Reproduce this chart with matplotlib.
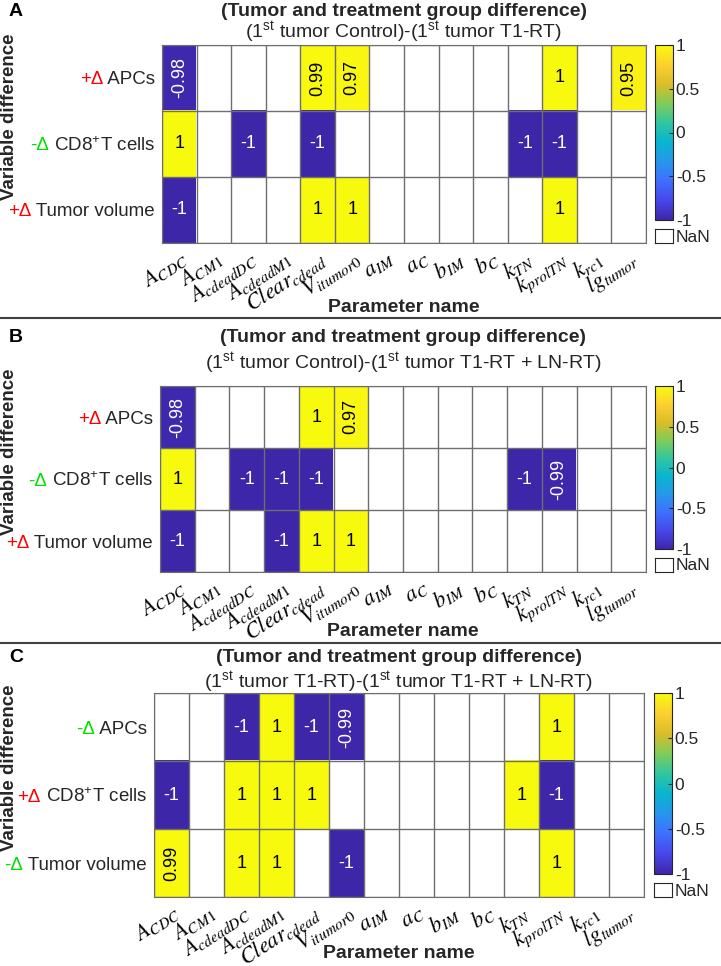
import numpy as np
import matplotlib as mpl
import matplotlib.pyplot as plt
from matplotlib.colors import LinearSegmentedColormap
from matplotlib.lines import Line2D

nan = np.nan

# parameter names (x axis)
params = [r'$A_{CDC}$', r'$A_{CM1}$', r'$A_{cdeadDC}$', r'$A_{cdeadM1}$',
          r'$Clear_{cdead}$', r'$V_{itumor0}$', r'$a_{IM}$', r'$a_{C}$',
          r'$b_{IM}$', r'$b_{C}$', r'$k_{TN}$', r'$k_{prolTN}$',
          r'$k_{rc1}$', r'$lg_{tumor}$']

row_names = [' APCs', r' CD8$^{+}$T cells', ' Tumor volume']

signs_A = ['+Δ', '-Δ', '+Δ']
signs_B = ['+Δ', '-Δ', '+Δ']
signs_C = ['-Δ', '+Δ', '-Δ']

title = '(Tumor and treatment group difference)'
sub_A = r'(1$^{\rm st}$ tumor Control)-(1$^{\rm st}$ tumor T1-RT)'
sub_B = r'(1$^{\rm st}$ tumor Control)-(1$^{\rm st}$ tumor T1-RT + LN-RT)'
sub_C = r'(1$^{\rm st}$ tumor T1-RT)-(1$^{\rm st}$ tumor T1-RT + LN-RT)'

vals_A = [[-0.98, nan, nan, nan, 0.99, 0.97, nan, nan, nan, nan, nan, 1, nan, 0.95],
          [1, nan, -1, nan, -1, nan, nan, nan, nan, nan, -1, -1, nan, nan],
          [-1, nan, nan, nan, 1, 1, nan, nan, nan, nan, nan, 1, nan, nan]]

vals_B = [[-0.98, nan, nan, nan, 1, 0.97, nan, nan, nan, nan, nan, nan, nan, nan],
          [1, nan, -1, -1, -1, nan, nan, nan, nan, nan, -1, -0.99, nan, nan],
          [-1, nan, nan, -1, 1, 1, nan, nan, nan, nan, nan, nan, nan, nan]]

vals_C = [[nan, nan, -1, 1, -1, -0.99, nan, nan, nan, nan, nan, 1, nan, nan],
          [-1, nan, 1, 1, 1, nan, nan, nan, nan, nan, 1, -1, nan, nan],
          [0.99, nan, 1, 1, nan, -1, nan, nan, nan, nan, nan, 1, nan, nan]]

cbar_ticks = [-1, -0.5, 0, 0.5, 1]
cbar_labels = ['-1', '-0.5', '0', '0.5', '1']

# parula-like colormap
parula = LinearSegmentedColormap.from_list('parula', [
    (0.2422, 0.1504, 0.6603), (0.2803, 0.2782, 0.9221), (0.2440, 0.4358, 0.9988),
    (0.1540, 0.5902, 0.9218), (0.0297, 0.7082, 0.8163), (0.1938, 0.7758, 0.6251),
    (0.5044, 0.7993, 0.3480), (0.8634, 0.7406, 0.1596), (0.9892, 0.8136, 0.1885),
    (0.9763, 0.9831, 0.0538)], N=256)
parula.set_bad('white')

plt.rcParams['font.family'] = ['Liberation Sans', 'DejaVu Sans']
plt.rcParams['mathtext.fontset'] = 'custom'
plt.rcParams['mathtext.rm'] = 'Liberation Sans'
plt.rcParams['mathtext.it'] = 'Liberation Sans:italic'
plt.rcParams['mathtext.bf'] = 'Liberation Sans:bold'

TXT = '#262626'
GRID = '#6e6e6e'
RED = '#ff0000'
GREEN = '#00e000'

W, H = 721, 966
fig = plt.figure(figsize=(W / 100, H / 100), dpi=100)


def rect(l, t, r, b):
    return [l / W, 1 - b / H, (r - l) / W, (b - t) / H]


def panel(letter, vals, signs, subtitle, box, cbox, title_y, sub_y, xlab_y):
    l, t, r, b = box
    ax = fig.add_axes(rect(l, t, r, b))
    data = np.array(vals, dtype=float)
    nr, nc = data.shape
    im = ax.imshow(np.ma.masked_invalid(data), cmap=parula, vmin=-1, vmax=1,
                   aspect='auto', interpolation='nearest')
    ax.set_xticks(np.arange(nc))
    ax.set_xticklabels(params, rotation=33, ha='right', va='top',
                       rotation_mode='anchor', fontsize=16,
                       math_fontfamily='stix', color='black')
    ax.set_yticks(np.arange(nr))
    ax.set_yticklabels([])
    ax.tick_params(length=0, pad=3)
    ax.set_xticks(np.arange(-0.5, nc), minor=True)
    ax.set_yticks(np.arange(-0.5, nr), minor=True)
    ax.tick_params(which='minor', length=0)
    ax.grid(which='minor', color=GRID, lw=1)
    for s in ax.spines.values():
        s.set_color(GRID)

    for i in range(nr):
        for j in range(nc):
            v = data[i, j]
            if np.isnan(v):
                continue
            ax.text(j, i, '%g' % v, ha='center', va='center', fontsize=13,
                    color='white' if v < 0 else 'black',
                    rotation=0 if abs(v) == 1 else 90)

    for i in range(nr):
        tl = ax.annotate(row_names[i], xy=(0, i), xycoords=('axes fraction', 'data'),
                         xytext=(-5, 0), textcoords='offset points',
                         ha='right', va='center_baseline', fontsize=13.5, color=TXT)
        ax.annotate(signs[i], xy=(0, i), xycoords=(tl, 'data'),
                    ha='right', va='center_baseline', fontsize=13.5,
                    color=RED if signs[i][0] == '+' else GREEN)

    cx = (l + r) / 2 / W
    fig.text(cx, 1 - title_y / H, title, ha='center', va='center',
             fontsize=14, fontweight='bold', color=TXT)
    fig.text(cx, 1 - sub_y / H, subtitle, ha='center', va='center',
             fontsize=14, color=TXT)
    fig.text(cx, 1 - xlab_y / H, 'Parameter name', ha='center', va='center',
             fontsize=14, fontweight='bold', color=TXT)
    fig.text(10 / W, 1 - ((t + b) / 2 - 27) / H, 'Variable difference',
             rotation=90, ha='center', va='center', fontsize=13.5,
             fontweight='bold', color=TXT)
    fig.text(9 / W, 1 - title_y / H, letter, ha='left', va='center',
             fontsize=14, fontweight='bold', color='black')

    # colorbar and NaN box
    cl, ct, cr, cb_ = cbox
    cax = fig.add_axes(rect(cl, ct, cr, cb_ - 23))
    cbar = fig.colorbar(im, cax=cax, ticks=cbar_ticks)
    cbar.set_ticklabels(cbar_labels)
    cbar.ax.tick_params(labelsize=12.5, direction='in', length=3, width=0.8,
                        colors=TXT, pad=2)
    cbar.outline.set_edgecolor(TXT)
    cbar.outline.set_linewidth(0.8)
    nax = fig.add_axes(rect(cl, cb_ - 14, cr, cb_))
    nax.set_xticks([])
    nax.set_yticks([])
    for s in nax.spines.values():
        s.set_color(TXT)
        s.set_linewidth(0.8)
    fig.text((cr + 3) / W, 1 - (cb_ - 6) / H, 'NaN', ha='left', va='center',
             fontsize=12.5, color=TXT)


panel('A', vals_A, signs_A, sub_A, (162, 45, 646, 243), (655, 45, 673, 243), 11, 32, 308)
panel('B', vals_B, signs_B, sub_B, (160, 386, 646, 572), (655, 386, 673, 572), 338, 363, 631)
panel('C', vals_C, signs_C, sub_C, (154, 693, 644, 897), (654, 693, 672, 897), 658, 682, 953)

for y in [318, 643]:
    fig.add_artist(Line2D([0, 1], [1 - y / H, 1 - y / H], transform=fig.transFigure,
                          color='#404040', lw=1.5))

fig.savefig('out.png', dpi=100)
